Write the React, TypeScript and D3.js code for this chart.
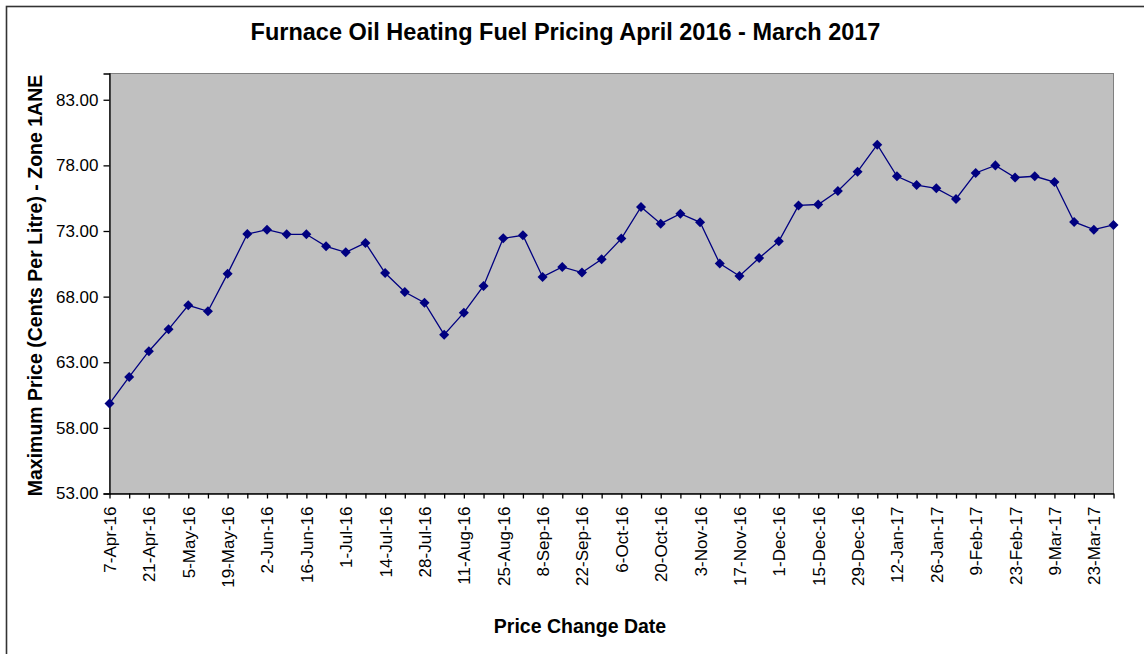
import React, { useEffect, useRef } from "react";
import * as d3 from "d3";

const dates = [
  "7-Apr-16", "14-Apr-16", "21-Apr-16", "28-Apr-16", "5-May-16", "12-May-16", "19-May-16", "26-May-16",
  "2-Jun-16", "9-Jun-16", "16-Jun-16", "23-Jun-16", "1-Jul-16", "7-Jul-16", "14-Jul-16", "21-Jul-16",
  "28-Jul-16", "4-Aug-16", "11-Aug-16", "18-Aug-16", "25-Aug-16", "1-Sep-16", "8-Sep-16", "15-Sep-16",
  "22-Sep-16", "29-Sep-16", "6-Oct-16", "13-Oct-16", "20-Oct-16", "27-Oct-16", "3-Nov-16", "10-Nov-16",
  "17-Nov-16", "24-Nov-16", "1-Dec-16", "8-Dec-16", "15-Dec-16", "22-Dec-16", "29-Dec-16", "5-Jan-17",
  "12-Jan-17", "19-Jan-17", "26-Jan-17", "2-Feb-17", "9-Feb-17", "16-Feb-17", "23-Feb-17", "2-Mar-17",
  "9-Mar-17", "16-Mar-17", "23-Mar-17", "30-Mar-17",
];

const prices = [
  59.85, 61.88, 63.84, 65.51, 67.34, 66.88, 69.75, 72.77, 73.1, 72.75, 72.75, 71.83, 71.38, 72.09,
  69.8, 68.35, 67.54, 65.1, 66.78, 68.81, 72.44, 72.67, 69.5, 70.26, 69.83, 70.84, 72.42, 74.83,
  73.56, 74.32, 73.66, 70.52, 69.57, 70.94, 72.22, 74.95, 75.02, 76.05, 77.52, 79.58, 77.17, 76.5,
  76.25, 75.44, 77.42, 78.0, 77.07, 77.17, 76.73, 73.69, 73.1, 73.46,
];

const yTicks = [53, 58, 63, 68, 73, 78, 83];

const FONT = "'Liberation Sans', Arial, sans-serif";

export default function App() {
  const ref = useRef<SVGSVGElement>(null);

  useEffect(() => {
    const width = 1144;
    const height = 654;
    const left = 109.5, right = 1113.5, top = 73.5, bottom = 493.5;

    const svg = d3.select(ref.current);
    svg.selectAll("*").remove();
    svg.attr("width", width).attr("height", height);

    svg.append("rect").attr("width", width).attr("height", height).attr("fill", "white");
    // outer chart frame
    svg.append("rect")
      .attr("x", 6.5).attr("y", 6.5).attr("width", 1160).attr("height", 670)
      .attr("fill", "none").attr("stroke", "#333").attr("stroke-width", 1.6);

    const x = d3.scalePoint<string>().domain(dates).range([left, right]);
    const y = d3.scaleLinear().domain([53, 85]).range([bottom, top]);

    // plot area
    svg.append("rect")
      .attr("x", left).attr("y", top).attr("width", right - left).attr("height", bottom - top)
      .attr("fill", "#c0c0c0").attr("stroke", "#808080").attr("stroke-width", 1);

    // y axis
    const yAxis = svg.append("g").attr("transform", `translate(${left},0)`)
      .call(d3.axisLeft(y).tickValues(yTicks).tickSize(6).tickPadding(5).tickFormat(d3.format(".2f")));
    yAxis.select(".domain").attr("stroke", "#000").attr("stroke-width", 1.3);
    yAxis.selectAll(".tick line").attr("stroke", "#000").attr("stroke-width", 1.3);
    yAxis.selectAll("text").attr("font-family", FONT).attr("font-size", 17).attr("fill", "#000");

    // x axis
    const xAxis = svg.append("g").attr("transform", `translate(0,${bottom})`)
      .call(d3.axisBottom(x).tickSize(5).tickSizeOuter(0)
        .tickFormat((d, i) => (i % 2 === 0 ? d : "")));
    xAxis.select(".domain").attr("stroke", "#000").attr("stroke-width", 1.3);
    xAxis.selectAll(".tick line").attr("stroke", "#000").attr("stroke-width", 1.3);
    xAxis.selectAll("text")
      .attr("font-family", FONT).attr("font-size", 17).attr("fill", "#000")
      .attr("text-anchor", "end").attr("dy", "0.35em")
      .attr("transform", "translate(0,13) rotate(-90)")
      .attr("x", 0).attr("y", 0);

    // line + markers
    const line = d3.line<number>().x((d, i) => x(dates[i])!).y((d) => y(d));
    svg.append("path").datum(prices)
      .attr("d", line).attr("fill", "none").attr("stroke", "#000080").attr("stroke-width", 1.3);

    svg.selectAll("path.marker").data(prices).enter().append("path")
      .attr("class", "marker")
      .attr("d", d3.symbol().type(d3.symbolDiamond2).size(64))
      .attr("transform", (d, i) => `translate(${x(dates[i])},${y(d)}) rotate(0)`)
      .attr("fill", "#000080");

    // titles
    svg.append("text").attr("x", 565.5).attr("y", 39.5).attr("text-anchor", "middle")
      .attr("font-family", FONT).attr("font-weight", "bold").attr("font-size", 23.5)
      .text("Furnace Oil Heating Fuel Pricing April 2016 - March 2017");

    svg.append("text").attr("x", 580).attr("y", 633).attr("text-anchor", "middle")
      .attr("font-family", FONT).attr("font-weight", "bold").attr("font-size", 19.5)
      .text("Price Change Date");

    svg.append("text").attr("transform", `translate(42,${(top + bottom) / 2 + 2}) rotate(-90)`)
      .attr("text-anchor", "middle")
      .attr("font-family", FONT).attr("font-weight", "bold").attr("font-size", 19.5)
      .text("Maximum Price (Cents Per Litre) - Zone 1ANE");
  }, []);

  return (
    <div style={{ position: "absolute", left: 0, top: 0 }}>
      <svg ref={ref} style={{ display: "block" }} />
    </div>
  );
}
